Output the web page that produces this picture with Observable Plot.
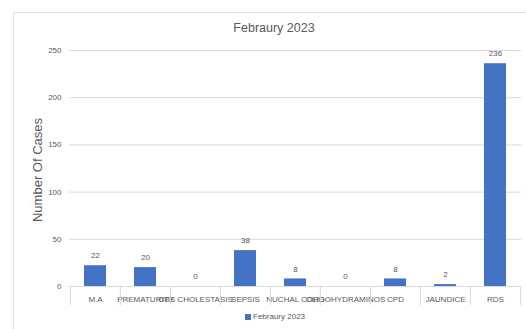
<!DOCTYPE html>
<html><head><meta charset="utf-8">
<script src="https://cdn.jsdelivr.net/npm/d3@7"></script>
<script src="https://cdn.jsdelivr.net/npm/@observablehq/plot@0.6"></script>
<style>
body{margin:0;width:526px;height:329px;overflow:hidden;background:#fff;font-family:"Liberation Sans",Arial,sans-serif;}
#wrap{position:relative;width:526px;height:329px;}
#frame{position:absolute;left:13px;top:12px;width:540px;height:340px;border:1px solid #e3e3e3;}
#title{position:absolute;left:0;width:548px;top:21px;text-align:center;font-size:12.5px;color:#595959;}
#ylab{position:absolute;left:37px;top:170px;transform:translate(-50%,-50%) rotate(-90deg);font-size:13px;color:#595959;white-space:nowrap;}
#chart{position:absolute;left:0;top:40px;}
#legend{position:absolute;left:245px;top:312px;font-size:8px;color:#595959;display:flex;align-items:center;}
#legend span.sw{display:inline-block;width:6px;height:6px;background:#4472C4;margin-right:2px;}
</style></head>
<body><div id="wrap"><div id="frame"></div><div id="title">Febraury 2023</div><div id="ylab">Number Of Cases</div><div id="chart"></div><div id="legend"><span class="sw"></span><span id="legtext"></span></div></div>
<script>
const categories = ["M.A","PREMATURITY","OBS CHOLESTASIS","SEPSIS","NUCHAL CORD","OLIGOHYDRAMINOS","CPD","JAUNDICE","RDS"];
const values = [22,20,0,38,8,0,8,2,236];
const yTicks = [0,50,100,150,200,250];
const seriesName = "Febraury 2023";

document.getElementById("legtext").textContent = seriesName;
const data = categories.map((c,i)=>({cat:c, value:values[i]}));
const W = 526, ML = 69, MR = 5;
const step = (W - ML - MR) / categories.length;
const gray = "#595959";

const chart = Plot.plot({
  width: W, height: 270,
  marginLeft: ML, marginRight: MR, marginTop: 10, marginBottom: 24,
  style: {fontFamily: "'Liberation Sans', Arial, sans-serif", fontSize: "8px", color: gray, background: "transparent", overflow: "visible"},
  x: {domain: categories, paddingInner: 0.56, paddingOuter: 0.28},
  y: {domain: [0,250], ticks: yTicks},
  marks: [
    Plot.gridY(yTicks, {stroke: "#d9d9d9", strokeOpacity: 1}),
    Plot.axisY(yTicks, {tickSize: 0, tickPadding: 8, label: null, fontSize: 8, fill: gray}),
    Plot.axisX({tickSize: 0, tickPadding: 10, label: null, fontSize: 8, fill: gray, fontFamily: "'Liberation Sans Narrow', 'Liberation Sans', Arial, sans-serif"}),
    Plot.ruleY([0], {stroke: "#d9d9d9"}),
    Plot.ruleX(categories, {x: d=>d, y1: 0, y2: 0, insetBottom: -19, dx: -step/2, stroke: "#d9d9d9"}),
    Plot.ruleX(categories.slice(-1), {x: d=>d, y1: 0, y2: 0, insetBottom: -19, dx: step/2, stroke: "#d9d9d9"}),
    Plot.barY(data, {x: "cat", y: "value", fill: "#4472C4"}),
    Plot.text(data, {x: "cat", y: "value", text: d=>String(d.value), dy: -10, fontSize: 8, fill: gray})
  ]
});
document.getElementById("chart").appendChild(chart);
</script></body></html>
